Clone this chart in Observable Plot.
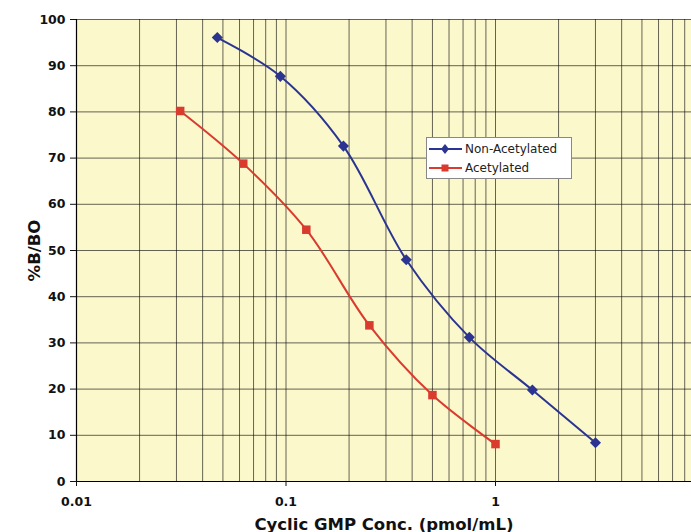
<!DOCTYPE html>
<html>
<head>
<meta charset="utf-8">
<script src="https://cdn.jsdelivr.net/npm/d3@7"></script>
<script src="https://cdn.jsdelivr.net/npm/@observablehq/plot@0.6"></script>
<style>
  html, body { margin: 0; padding: 0; background: #fff; overflow: hidden; }
  #wrap { position: relative; width: 691px; height: 532px; }
  g[aria-label="y-axis tick label"] text, g[aria-label="x-axis tick label"] text { font-weight: 700; font-size: 12.5px; }
  g[aria-label="y-axis label"] text, g[aria-label="x-axis label"] text { font-weight: 700; font-size: 16.5px; }
  #legend { position: absolute; left: 426px; top: 137px; width: 146px; height: 42px; background: #fff;
    border: 1px solid #888; box-sizing: border-box; font-family: "DejaVu Sans", sans-serif; font-size: 12px; color: #222; }
  #legend .item { position: absolute; left: 2px; height: 16px; display: flex; align-items: center; }
  #legend svg { margin-right: 3px; }
</style>
</head>
<body>
<div id="wrap"></div>
<script>
// Data
const nonAcetylatedConc = [0.047, 0.094, 0.188, 0.375, 0.75, 1.5, 3.0];
const nonAcetylatedBB0  = [96.1, 87.7, 72.6, 48.0, 31.2, 19.8, 8.4];
const acetylatedConc = [0.03125, 0.0625, 0.125, 0.25, 0.5, 1.0];
const acetylatedBB0  = [80.2, 68.8, 54.5, 33.8, 18.7, 8.1];

const xTickValues = [0.01, 0.1, 1];
const xTickLabels = ["0.01", "0.1", "1"];
const yTickValues = [0, 10, 20, 30, 40, 50, 60, 70, 80, 90, 100];
const xGridValues = [0.01,0.02,0.03,0.04,0.05,0.06,0.07,0.08,0.09,
                     0.1,0.2,0.3,0.4,0.5,0.6,0.7,0.8,0.9,
                     1,2,3,4,5,6,7,8];

const seriesNames = ["Non-Acetylated", "Acetylated"];
const seriesColors = ["#2B3591", "#D93B2E"];

const nonAc = nonAcetylatedConc.map((x, i) => ({x, y: nonAcetylatedBB0[i]}));
const ac = acetylatedConc.map((x, i) => ({x, y: acetylatedBB0[i]}));
const xLabelFor = (d) => {
  const i = xTickValues.findIndex(v => Math.abs(v - d) < 1e-9);
  return i >= 0 ? xTickLabels[i] : "";
};

const chart = Plot.plot({
  width: 691,
  height: 532,
  marginLeft: 76,
  marginRight: 0,
  marginTop: 19,
  marginBottom: 51,
  style: { fontFamily: "'DejaVu Sans', sans-serif", fontSize: "13px", color: "#111", background: "#fff" },
  x: { type: "log", domain: [0.01, 8.62] },
  y: { domain: [0, 100] },
  marks: [
    Plot.frame({ fill: "#FBF8CC", stroke: null }),
    Plot.ruleX(xGridValues, { stroke: "#000", strokeOpacity: 0.6, strokeWidth: 1 }),
    Plot.ruleY(yTickValues, { stroke: "#000", strokeOpacity: 0.6, strokeWidth: 1 }),
    Plot.ruleX([0.01], { stroke: "#000", strokeWidth: 1.2 }),
    Plot.ruleY([0], { stroke: "#000", strokeWidth: 1.2 }),
    Plot.axisY({ ticks: yTickValues, tickSize: 6, tickPadding: 5, label: "%B/BO", labelAnchor: "center", labelArrow: "none", labelOffset: 48 }),
    Plot.axisX({ ticks: xTickValues, tickFormat: xLabelFor, tickSize: 5, tickPadding: 11,
                 label: "Cyclic GMP Conc. (pmol/mL)", labelAnchor: "center", labelArrow: "none", labelOffset: 48 }),
    Plot.line(nonAc, { x: "x", y: "y", stroke: seriesColors[0], strokeWidth: 2, curve: "catmull-rom" }),
    Plot.line(ac, { x: "x", y: "y", stroke: seriesColors[1], strokeWidth: 2, curve: "catmull-rom" }),
    Plot.dot(nonAc, { x: "x", y: "y", symbol: "diamond2", r: 5, fill: seriesColors[0], stroke: null }),
    Plot.dot(ac, { x: "x", y: "y", symbol: "square", r: 4.8, fill: seriesColors[1], stroke: null })
  ]
});

const wrap = document.getElementById("wrap");
wrap.appendChild(chart);

// Legend
const legend = document.createElement("div");
legend.id = "legend";
seriesNames.forEach((name, i) => {
  const item = document.createElement("div");
  item.className = "item";
  item.style.top = (i === 0 ? 3 : 22) + "px";
  const sym = i === 0
    ? `<path d="M16,3 L20,8 L16,13 L12,8 Z" fill="${seriesColors[i]}"/>`
    : `<rect x="12.5" y="4.5" width="7" height="7" fill="${seriesColors[i]}"/>`;
  item.innerHTML = `<svg width="33" height="16"><line x1="0" y1="8" x2="33" y2="8" stroke="${seriesColors[i]}" stroke-width="2"/>${sym}</svg><span>${name}</span>`;
  legend.appendChild(item);
});
wrap.appendChild(legend);
</script>
</body>
</html>
